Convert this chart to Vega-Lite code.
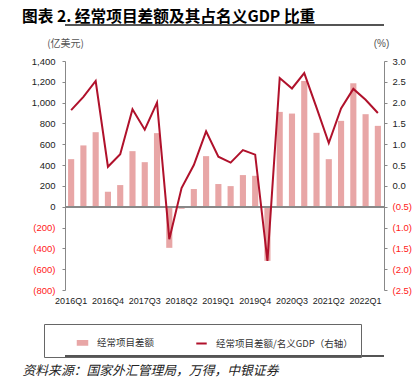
{
  "$schema": "https://vega.github.io/schema/vega-lite/v6.json",
  "width": 319,
  "height": 229,
  "autosize": {"type": "none"},
  "padding": {"left": 65, "top": 61, "right": 35, "bottom": 100},
  "background": "white",
  "config": {"view": {"stroke": null}, "font": "Liberation Sans"},
  "title": {
    "text": "图表 2. 经常项目差额及其占名义GDP 比重",
    "anchor": "start",
    "frame": "bounds",
    "offset": -1,
    "font": "Noto Sans CJK SC",
    "fontSize": 15.7,
    "fontWeight": "bold",
    "color": "#000000"
  },
  "data": {
    "values": [
      {"q": "2016Q1", "balance": 457, "ratio": 1.82},
      {"q": "2016Q2", "balance": 589, "ratio": 2.14},
      {"q": "2016Q3", "balance": 716, "ratio": 2.52},
      {"q": "2016Q4", "balance": 144, "ratio": 0.46},
      {"q": "2017Q1", "balance": 208, "ratio": 0.76},
      {"q": "2017Q2", "balance": 534, "ratio": 1.84},
      {"q": "2017Q3", "balance": 428, "ratio": 1.35},
      {"q": "2017Q4", "balance": 707, "ratio": 2.0},
      {"q": "2018Q1", "balance": -395, "ratio": -1.28},
      {"q": "2018Q2", "balance": -20, "ratio": -0.05},
      {"q": "2018Q3", "balance": 170, "ratio": 0.5},
      {"q": "2018Q4", "balance": 486, "ratio": 1.31},
      {"q": "2019Q1", "balance": 218, "ratio": 0.7},
      {"q": "2019Q2", "balance": 198, "ratio": 0.56},
      {"q": "2019Q3", "balance": 304, "ratio": 0.86},
      {"q": "2019Q4", "balance": 297, "ratio": 0.75},
      {"q": "2020Q1", "balance": -520, "ratio": -1.8},
      {"q": "2020Q2", "balance": 911, "ratio": 2.59},
      {"q": "2020Q3", "balance": 895, "ratio": 2.34},
      {"q": "2020Q4", "balance": 1208, "ratio": 2.71},
      {"q": "2021Q1", "balance": 710, "ratio": 1.88},
      {"q": "2021Q2", "balance": 457, "ratio": 1.03},
      {"q": "2021Q3", "balance": 825, "ratio": 1.86},
      {"q": "2021Q4", "balance": 1186, "ratio": 2.33},
      {"q": "2022Q1", "balance": 889, "ratio": 2.07},
      {"q": "2022Q2", "balance": 777, "ratio": 1.75}
    ]
  },
  "layer": [
    {
      "encoding": {
        "y": {
          "type": "quantitative",
          "scale": {"domain": [-800, 1400], "nice": false, "zero": false},
          "axis": {
            "orient": "left",
            "values": [-800, -600, -400, -200, 0, 200, 400, 600, 800, 1000, 1200, 1400],
            "grid": false,
            "labelOverlap": false,
            "labelExpr": "datum.value < 0 ? '(' + format(-datum.value, ',') + ')' : format(datum.value, ',')",
            "labelColor": {"condition": {"test": "datum.value < 0", "value": "#ff2020"}, "value": "#222222"},
            "labelFont": "Liberation Sans",
            "labelFontSize": 9.5,
            "labelPadding": 7,
            "tickSize": 3,
            "tickColor": "#888888",
            "domainColor": "#888888",
            "title": "(亿美元)",
            "titleAngle": 0,
            "titleX": 0,
            "titleY": -18,
            "titleAlign": "center",
            "titleBaseline": "middle",
            "titleFont": "Noto Sans CJK SC",
            "titleFontSize": 10,
            "titleFontWeight": "normal",
            "titleColor": "#555555"
          }
        }
      },
      "layer": [
        {
          "mark": {"type": "bar"},
          "encoding": {
            "x": {
              "field": "q",
              "type": "ordinal",
              "sort": null,
              "scale": {"paddingInner": 0.5, "paddingOuter": 0.25},
              "axis": {
                "values": ["2016Q1", "2016Q4", "2017Q3", "2018Q2", "2019Q1", "2019Q4", "2020Q3", "2021Q2", "2022Q1"],
                "labelAngle": 0,
                "labelOverlap": false,
                "ticks": false,
                "domain": false,
                "labelPadding": 6,
                "labelFont": "Liberation Sans",
                "labelFontSize": 9,
                "labelColor": "#222222",
                "title": "资料来源：国家外汇管理局，万得，中银证券",
                "titleX": -43,
                "titleY": 80,
                "titleAlign": "left",
                "titleBaseline": "middle",
                "titleFont": "Noto Sans CJK SC",
                "titleFontSize": 12.8,
                "titleFontStyle": "italic",
                "titleFontWeight": "normal",
                "titleColor": "#222222"
              }
            },
            "y": {"field": "balance"},
            "color": {
              "datum": "经常项目差额",
              "scale": {
                "domain": ["经常项目差额", "经常项目差额/名义GDP（右轴）"],
                "range": ["#E8A6A6", "#B0112B"]
              },
              "legend": {
                "orient": "none",
                "legendX": -21,
                "legendY": 263,
                "direction": "horizontal",
                "title": "　",
                "titleOrient": "left",
                "titlePadding": 20,
                "titleFontSize": 9.5,
                "strokeColor": "#666666",
                "padding": 8,
                "cornerRadius": 0,
                "columnPadding": 36,
                "symbolSize": 361,
                "labelOffset": 4,
                "labelFont": "Noto Sans CJK SC",
                "labelFontSize": 9.5,
                "labelColor": "#333333",
                "labelExpr": "datum.label == '经常项目差额' ? datum.label : datum.label + '　　　　'",
                "labelLimit": 400,
                "encode": {
                  "symbols": {
                    "update": {
                      "shape": {"signal": "datum.value == '经常项目差额' ? 'M-0.5,-0.19H0.5V0.19H-0.5Z' : 'M-0.55,0H0.55'"},
                      "fill": {"signal": "datum.value == '经常项目差额' ? '#E8A6A6' : 'transparent'"},
                      "stroke": {"signal": "datum.value == '经常项目差额' ? 'transparent' : '#B0112B'"},
                      "strokeWidth": {"value": 2}
                    }
                  }
                }
              }
            }
          }
        },
        {
          "mark": {"type": "rule", "color": "#888888", "strokeWidth": 1.5},
          "encoding": {"y": {"datum": 0}}
        },
        {
          "mark": {"type": "rule", "color": "#555555", "strokeWidth": 1.2},
          "encoding": {"y": {"datum": 1742}}
        },
        {
          "mark": {"type": "rule", "color": "#555555", "strokeWidth": 1.2},
          "encoding": {"y": {"datum": -1438}}
        }
      ]
    },
    {
      "mark": {"type": "line", "strokeWidth": 2},
      "encoding": {
        "x": {"field": "q", "type": "ordinal", "sort": null},
        "y": {
          "field": "ratio",
          "type": "quantitative",
          "scale": {"domain": [-2.5, 3.0], "nice": false, "zero": false},
          "axis": {
            "orient": "right",
            "values": [-2.5, -2, -1.5, -1, -0.5, 0, 0.5, 1, 1.5, 2, 2.5, 3],
            "grid": false,
            "labelOverlap": false,
            "labelExpr": "datum.value < 0 ? '(' + format(-datum.value, '.1f') + ')' : format(datum.value, '.1f')",
            "labelColor": {"condition": {"test": "datum.value < 0", "value": "#ff2020"}, "value": "#222222"},
            "labelFont": "Liberation Sans",
            "labelFontSize": 9.5,
            "labelPadding": 5,
            "tickSize": 3,
            "tickColor": "#888888",
            "domainColor": "#888888",
            "title": "(%)",
            "titleAngle": 0,
            "titleX": -3,
            "titleY": -18,
            "titleAlign": "center",
            "titleBaseline": "middle",
            "titleFont": "Liberation Sans",
            "titleFontSize": 10,
            "titleFontWeight": "normal",
            "titleColor": "#555555"
          }
        },
        "color": {"datum": "经常项目差额/名义GDP（右轴）"}
      }
    }
  ],
  "resolve": {"scale": {"y": "independent"}}
}
